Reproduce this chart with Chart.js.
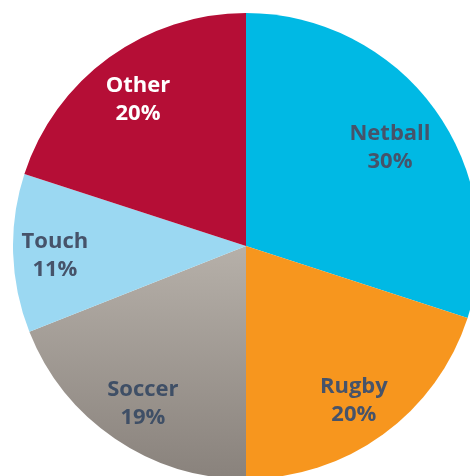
<!DOCTYPE html>
<html>
<head>
<meta charset="utf-8">
<script src="https://cdn.jsdelivr.net/npm/chart.js@4.4.0/dist/chart.umd.min.js"></script>
<style>
  html, body { margin: 0; padding: 0; overflow: hidden; background: #fff; width: 470px; height: 476px; }
  #pieChart { position: absolute; left: 13px; top: 13px; }
</style>
</head>
<body>
<canvas id="pieChart" width="466" height="466"></canvas>
<script>
const sports = ["Netball", "Rugby", "Soccer", "Touch", "Other"];
const shares = [30, 20, 19, 11, 20];
const sliceColors = ["#00b9e4", "#f7961e", "soccer", "#9bd8f2", "#b50e36"];
const labelColors = ["#46536a", "#46536a", "#3f4f66", "#46536a", "#ffffff"];
// label placement: fraction of radius, and angle nudge in degrees
const labelDistance = [0.75, 0.807, 0.806, 0.821, 0.783];
const labelNudge = [1.5, 1, -0.9, -0.9, -0.3];

function sliceFill(context) {
  const c = sliceColors[context.dataIndex];
  if (c !== "soccer") return c;
  const chart = context.chart;
  const area = chart.chartArea;
  if (!area) return "#a59f98";
  const cy = (area.top + area.bottom) / 2;
  const g = chart.ctx.createLinearGradient(0, cy, 0, area.bottom);
  g.addColorStop(0, "#b6b0a9");
  g.addColorStop(1, "#89827c");
  return g;
}

const sliceLabels = {
  id: "sliceLabels",
  afterDatasetsDraw(chart) {
    const ctx = chart.ctx;
    const meta = chart.getDatasetMeta(0);
    ctx.save();
    ctx.font = "bold 22px 'Open Sans'";
    ctx.textAlign = "center";
    ctx.textBaseline = "middle";
    meta.data.forEach((arc, i) => {
      const p = arc.getProps(["x", "y", "startAngle", "endAngle", "outerRadius"], true);
      const mid = (p.startAngle + p.endAngle) / 2 + labelNudge[i] * Math.PI / 180;
      const r = p.outerRadius * labelDistance[i];
      const x = p.x + Math.cos(mid) * r;
      const y = p.y + Math.sin(mid) * r + 1;
      ctx.fillStyle = labelColors[i];
      ctx.fillText(sports[i], x, y - 14);
      ctx.fillText(shares[i] + "%", x, y + 14);
    });
    ctx.restore();
  }
};

new Chart(document.getElementById("pieChart"), {
  type: "pie",
  data: {
    labels: sports,
    datasets: [{
      data: shares,
      backgroundColor: sliceFill,
      borderWidth: 0
    }]
  },
  options: {
    responsive: false,
    animation: false,
    layout: { padding: 0 },
    plugins: {
      legend: { display: false },
      tooltip: { enabled: false }
    }
  },
  plugins: [sliceLabels]
});
</script>
</body>
</html>
